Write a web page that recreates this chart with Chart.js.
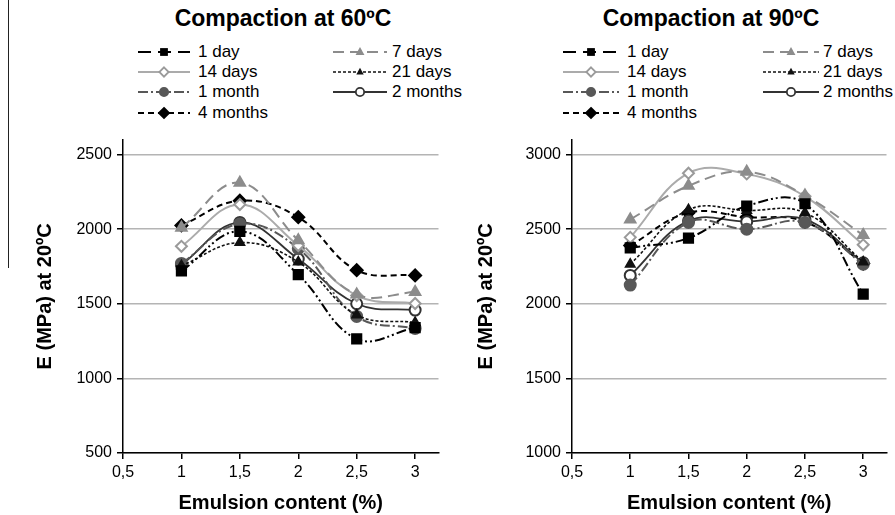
<!DOCTYPE html>
<html>
<head>
<meta charset="utf-8">
<script src="https://cdn.jsdelivr.net/npm/chart.js@4.4.0/dist/chart.umd.min.js"></script>
<style>
    body { margin: 0; background: #fff; font-family: "Liberation Sans", Arial, sans-serif; color: #000; }
    #page { position: relative; width: 895px; height: 515px; overflow: hidden; }
    .title { position: absolute; top: 5px; width: 300px; font-weight: bold; font-size: 23px; line-height: 26px; text-align: center; white-space: nowrap; }
    .box { position: absolute; top: 125px; height: 390px; }
    .item { position: absolute; height: 16px; }
    .item svg { position: absolute; left: 0; top: 0; }
    .item span { position: absolute; top: -2px; font-size: 17px; line-height: 20px; white-space: nowrap; }
    .edge { position: absolute; left: 8px; top: 0; width: 1px; height: 268px; background: #222; }
</style>
</head>
<body>
<div id="page">
    <div class="edge"></div>
    <div class="title" style="left:133px">Compaction at 60ºC</div>
    <div class="title" style="left:561px">Compaction at 90ºC</div>
    <div id="legend60"></div>
    <div id="legend90"></div>
    <div class="box" style="left:30px; width:417px"><canvas id="chart60"></canvas></div>
    <div class="box" style="left:471px; width:424px"><canvas id="chart90"></canvas></div>
</div>
<script>
// emulsion content (%) and curing times
const emulsion = [1, 1.5, 2, 2.5, 3];
const seriesNames = ["1 day", "7 days", "14 days", "21 days", "1 month", "2 months", "4 months"];
const xTicks = [0.5, 1, 1.5, 2, 2.5, 3];
const yTicks60 = [500, 1000, 1500, 2000, 2500];
const yTicks90 = [1000, 1500, 2000, 2500, 3000];

// E (MPa), compaction at 60ºC
const day1_60 = [1720, 1985, 1695, 1265, 1340];
const day7_60 = [2010, 2311, 1925, 1562, 1578];
const day14_60 = [1885, 2165, 1890, 1555, 1502];
const day21_60 = [1755, 1910, 1780, 1425, 1375];
const month1_60 = [1770, 2035, 1870, 1415, 1335];
const month2_60 = [1760, 2045, 1800, 1500, 1458];
const month4_60 = [2025, 2190, 2080, 1725, 1690];

// E (MPa), compaction at 90ºC
const day1_90 = [2375, 2440, 2655, 2670, 2065];
const day7_90 = [2565, 2790, 2885, 2725, 2460];
const day14_90 = [2445, 2875, 2870, 2720, 2395];
const day21_90 = [2265, 2630, 2625, 2610, 2280];
const month1_90 = [2125, 2545, 2500, 2545, 2265];
const month2_90 = [2190, 2555, 2550, 2565, 2275];
const month4_90 = [2390, 2610, 2580, 2550, 2270];

const data60 = [day1_60, day7_60, day14_60, day21_60, month1_60, month2_60, month4_60];
const data90 = [day1_90, day7_90, day14_90, day21_90, month1_90, month2_90, month4_90];

// line / marker look of every curing time
const looks = [
    { color: "#000", dash: [10, 3, 2, 3, 2, 3], key: [13, 7], point: "rect", r: 6.5, fill: "#000", edge: "#000", width: 2 },
    { color: "#8c8c8c", dash: [11, 6], point: "triangle", r: 6, fill: "#8c8c8c", edge: "#8c8c8c", width: 2 },
    { color: "#ababab", dash: [], point: "rectRot", r: 5.5, fill: "#fff", edge: "#9a9a9a", width: 2 },
    { color: "#111", dash: [3, 2], point: "triangle", r: 5, fill: "#111", edge: "#111", width: 1.6 },
    { color: "#585858", dash: [10, 3, 2, 3], point: "circle", r: 5.5, fill: "#585858", edge: "#585858", width: 2 },
    { color: "#333", dash: [], point: "circle", r: 5.5, fill: "#fff", edge: "#333", width: 1.8 },
    { color: "#000", dash: [6, 4], point: "rectRot", r: 6, fill: "#000", edge: "#000", width: 2 }
];

Chart.defaults.font.family = '"Liberation Sans", Arial, sans-serif';
Chart.defaults.color = "#000";

function comma(v) {
    return String(v).replace(".", ",");
}

function makeChart(id, series, yMin, yMax, yTicks, axisWidth, padRight) {
    const datasets = series.map((vals, i) => {
        const lk = looks[i];
        return {
            label: seriesNames[i],
            data: emulsion.map((x, j) => ({ x: x, y: vals[j] })),
            borderColor: lk.color,
            borderWidth: lk.width,
            borderDash: lk.dash,
            backgroundColor: lk.fill,
            pointStyle: lk.point,
            pointRadius: lk.r,
            pointBackgroundColor: lk.fill,
            pointBorderColor: lk.edge,
            pointBorderWidth: 2,
            tension: 0.4,
            fill: false
        };
    });

    new Chart(document.getElementById(id), {
        type: "line",
        data: { datasets: datasets },
        options: {
            responsive: true,
            maintainAspectRatio: false,
            animation: false,
            clip: false,
            layout: { padding: { top: 12, right: padRight, left: 0, bottom: 0 } },
            plugins: { legend: { display: false }, tooltip: { enabled: false } },
            scales: {
                x: {
                    type: "linear",
                    min: 0.5,
                    max: 3.2,
                    afterBuildTicks: (scale) => { scale.ticks = xTicks.map(v => ({ value: v })); },
                    afterFit: (scale) => { scale.height = 62; },
                    ticks: { font: { size: 16 }, padding: 4, callback: (v) => comma(v) },
                    grid: { drawOnChartArea: false, tickColor: "#000", tickLength: 6, lineWidth: 1.5 },
                    border: { color: "#000", width: 1.5 },
                    title: { display: true, text: "Emulsion content (%)", font: { size: 20, weight: "bold" }, padding: { top: 0, bottom: 0 } }
                },
                y: {
                    min: yMin,
                    max: yMax,
                    afterBuildTicks: (scale) => { scale.ticks = yTicks.map(v => ({ value: v })); },
                    afterFit: (scale) => { scale.width = axisWidth; },
                    ticks: { font: { size: 16 }, padding: 5, callback: (v) => String(v) },
                    grid: { color: "#b4b4b4", tickColor: "#000", tickLength: 6, lineWidth: 1.5 },
                    border: { color: "#000", width: 1.5 },
                    title: { display: true, text: "E (MPa) at 20ºC", font: { size: 20, weight: "bold" }, padding: { top: 3, bottom: 0 } }
                }
            }
        }
    });
}

function sample(lk, w) {
    const cx = w / 2, cy = 8;
    const r = lk.r * 0.85;
    const dash = (lk.key || lk.dash).join(" ");
    let mark = "";
    if (lk.point === "rect") {
        const s = r * 1.41;
        mark = `<rect x="${cx - s / 2}" y="${cy - s / 2}" width="${s}" height="${s}" fill="${lk.fill}"/>`;
    } else if (lk.point === "triangle") {
        mark = `<polygon points="${cx},${cy - r} ${cx + r * 0.87},${cy + r * 0.6} ${cx - r * 0.87},${cy + r * 0.6}" fill="${lk.fill}"/>`;
    } else if (lk.point === "rectRot") {
        mark = `<polygon points="${cx},${cy - r} ${cx + r},${cy} ${cx},${cy + r} ${cx - r},${cy}" fill="${lk.fill}" stroke="${lk.edge}" stroke-width="1.8"/>`;
    } else {
        mark = `<circle cx="${cx}" cy="${cy}" r="${r - 0.5}" fill="${lk.fill}" stroke="${lk.edge}" stroke-width="1.8"/>`;
    }
    return `<svg width="${w}" height="16"><line x1="0" y1="${cy}" x2="${w}" y2="${cy}" stroke="${lk.color}" stroke-width="${lk.width}" stroke-dasharray="${dash}"/>${mark}</svg>`;
}

function makeLegend(id, cols) {
    const rows = [52, 72, 92, 113];
    let html = "";
    seriesNames.forEach((name, i) => {
        const c = cols[i % 2];
        const y = rows[Math.floor(i / 2)];
        html += `<div class="item" style="left:${c.x}px; top:${y - 8}px">${sample(looks[i], c.w)}<span style="left:${c.t - c.x}px">${name}</span></div>`;
    });
    document.getElementById(id).innerHTML = html;
}

makeLegend("legend60", [{ x: 138, w: 52, t: 198 }, { x: 333, w: 54, t: 392 }]);
makeLegend("legend90", [{ x: 563, w: 56, t: 627 }, { x: 763, w: 56, t: 823 }]);

makeChart("chart60", data60, 500, 2600, yTicks60, 93, 4);
makeChart("chart90", data90, 1000, 3100, yTicks90, 101, 2);
</script>
</body>
</html>
